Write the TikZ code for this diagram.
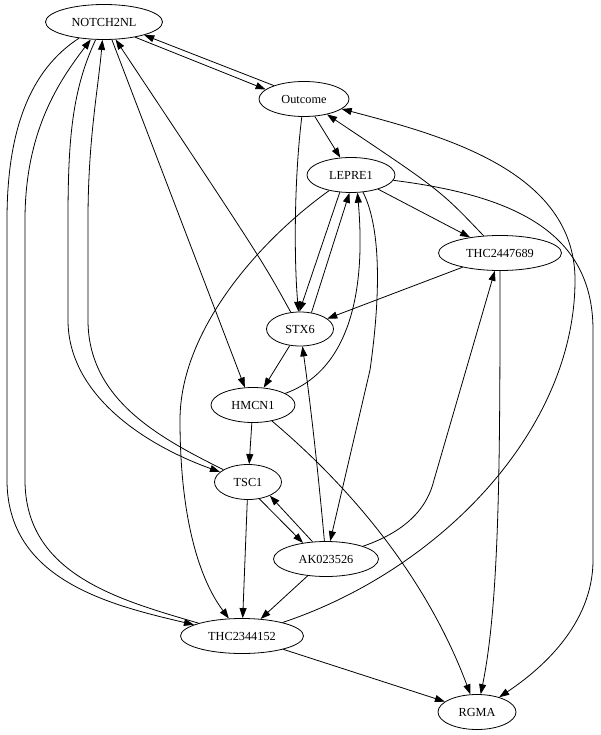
\documentclass[tikz,border=0pt]{standalone}
\usepackage{fontspec}
\setmainfont{Liberation Serif}
\usetikzlibrary{shapes.geometric,arrows.meta}
\begin{document}
\begin{tikzpicture}[x=1pt,y=-1pt,
  nd/.style={draw, ellipse, line width=0.8pt, inner sep=0pt, minimum height=35pt, font=\fontsize{12.3}{14}\selectfont},
  e/.style={-{Triangle[length=10pt,width=7pt]}, line width=0.8pt}]
\useasboundingbox (0,0) rectangle (600,735);
\node[nd, minimum width=117pt] (N) at (104,22) {NOTCH2NL};
\node[nd, minimum width=90pt] (O) at (304,99) {Outcome};
\node[nd, minimum width=88pt] (L) at (351,175) {LEPRE1};
\node[nd, minimum width=123pt] (T1) at (500,253) {THC2447689};
\node[nd, minimum width=67pt, minimum height=34pt] (S) at (300,329) {STX6};
\node[nd, minimum width=84pt] (H) at (253,405) {HMCN1};
\node[nd, minimum width=67pt] (Ts) at (248,482) {TSC1};
\node[nd, minimum width=105pt] (A) at (326,559) {AK023526};
\node[nd, minimum width=123pt] (T2) at (242,636) {THC2344152};
\node[nd, minimum width=78pt] (R) at (477,712) {RGMA};

% NOTCH2NL <-> Outcome
\draw[e] (N.-26) -- (O.166);
\draw[e] (O.156) -- (N.-18);
% Outcome
\draw[e] (O) -- (L);
\draw[e] (O) .. controls (294,180) and (294,260) .. (S);
% LEPRE1 <-> STX6
\draw[e] (L.-123) -- (S.92);
\draw[e] (S.55) -- (L.-95);
\draw[e] (L) -- (T1);
\draw[e] (T1) .. controls (440,190) .. (O);
\draw[e] (T2) .. controls (440,570) and (575,430) .. (575,280) .. controls (575,170) and (440,135) .. (O);
\draw[e] (L) .. controls (510,195) and (593,230) .. (593,330) -- (593,560) .. controls (593,625) and (540,670) .. (R);
\draw[e] (T1) -- (S);
\draw[e] (T1) .. controls (500,450) and (500,600) .. (R);
\draw[e] (A) .. controls (410,530) and (428,505) .. (434,480) -- (T1);
\draw[e] (L) .. controls (260,240) and (180,330) .. (180,420) .. controls (180,520) and (200,580) .. (T2);
\draw[e] (H) .. controls (350,370) and (366,290) .. (L.-70);
\draw[e] (L.-55) .. controls (382,230) and (380,300) .. (370,370) -- (A);
\draw[e] (S) .. controls (262,260) .. (N);
\draw[e] (N.-66) -- (H.115);
\draw[e] (S) -- (H);
\draw[e] (A) .. controls (318,470) and (310,400) .. (S);
\draw[e] (H) -- (Ts);
\draw[e] (H) .. controls (330,470) and (420,560) .. (R);
\draw[e] (Ts) -- (T2);
\draw[e] (Ts.-56) -- (A.145);
\draw[e] (A.128) -- (Ts.-32);
\draw[e] (A) -- (T2);
\draw[e] (T2) -- (R);
% left loops
\draw[e] (N) .. controls (30,70) and (7,130) .. (7,220) -- (7,480) .. controls (7,580) and (110,605) .. (T2);
\draw[e] (T2) .. controls (120,600) and (25,575) .. (25,480) -- (25,220) .. controls (25,130) and (60,80) .. (N);
\draw[e] (N) .. controls (72,90) and (68,140) .. (68,220) -- (68,320) .. controls (68,395) and (145,445) .. (Ts);
\draw[e] (Ts) .. controls (160,438) and (88,400) .. (88,320) -- (88,220) .. controls (88,140) and (98,90) .. (N);
\end{tikzpicture}
\end{document}
